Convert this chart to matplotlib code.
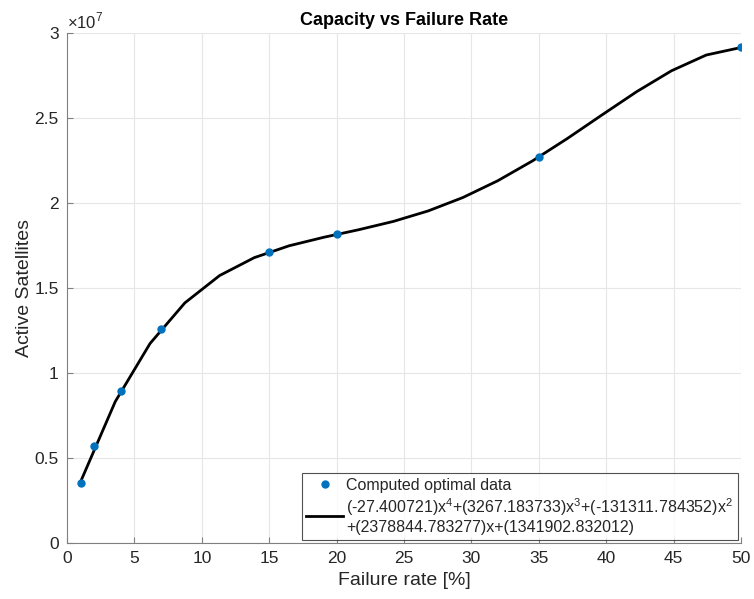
import numpy as np
import matplotlib
matplotlib.use("Agg")
import matplotlib.pyplot as plt

plt.rcParams['font.family'] = ['Liberation Sans', 'DejaVu Sans']
plt.rcParams['mathtext.fontset'] = 'custom'
plt.rcParams['mathtext.rm'] = 'Liberation Sans'

# computed optimal data
failure_rate = [1, 2, 4, 7, 15, 20, 35, 50]
active_sats = [3.53e6, 5.72e6, 8.94e6, 12.6e6, 17.1e6, 18.15e6, 22.7e6, 29.2e6]

# 4th order fit coefficients (from the legend)
fit_coeffs = [-27.400721, 3267.183733, -131311.784352, 2378844.783277, 1341902.832012]
N_FIT = 20   # fit curve sampled at 20 points between first and last x

xfit = np.linspace(failure_rate[0], failure_rate[-1], N_FIT)
yfit = np.polyval(fit_coeffs, xfit)

fit_label = ("(-27.400721)x$^{4}$+(3267.183733)x$^{3}$+(-131311.784352)x$^{2}$\n"
             "+(2378844.783277)x+(1341902.832012)")

AX_COL = '#262626'
SPINE_COL = '#808080'

fig = plt.figure(figsize=(7.54, 5.99), dpi=100)
ax = fig.add_axes([0.0889, 0.0935, 0.8939, 0.8514])

ax.plot(failure_rate, active_sats, 'o', color='#0072BD', markersize=5,
        label='Computed optimal data', zorder=3)
ax.plot(xfit, yfit, '-', color='black', linewidth=2, label=fit_label, zorder=2)

ax.set_xlim(0, 50)
ax.set_ylim(0, 3e7)
ax.set_xticks(np.arange(0, 51, 5))
ax.set_yticks(np.arange(0, 3.01e7, 0.5e7))
ax.set_yticklabels(['0', '0.5', '1', '1.5', '2', '2.5', '3'])
ax.text(0.0, 1.003, r'$\times10^{7}$', transform=ax.transAxes, fontsize=12,
        color=AX_COL, ha='left', va='bottom')

ax.grid(True, color='#e6e6e6', linewidth=0.8)
ax.set_axisbelow(True)
for side in ['top', 'right']:
    ax.spines[side].set_visible(False)
for side in ['left', 'bottom']:
    ax.spines[side].set_color(SPINE_COL)
ax.tick_params(direction='in', length=4, colors=SPINE_COL, labelcolor=AX_COL,
               labelsize=12.5, pad=6)

ax.set_xlabel('Failure rate [%]', fontsize=14, color=AX_COL, labelpad=4)
ax.set_ylabel('Active Satellites', fontsize=14, color=AX_COL, labelpad=1)
ax.set_title('Capacity vs Failure Rate', fontsize=13, fontweight='bold', pad=6)

leg = ax.legend(loc='lower right', fontsize=11.5, frameon=True, fancybox=False,
                edgecolor='#262626', borderaxespad=0.2, handlelength=2.3,
                handletextpad=0.2, labelspacing=0.2, borderpad=0.3,
                labelcolor=AX_COL)
leg.get_frame().set_linewidth(0.8)

fig.savefig('out.png', dpi=100)
